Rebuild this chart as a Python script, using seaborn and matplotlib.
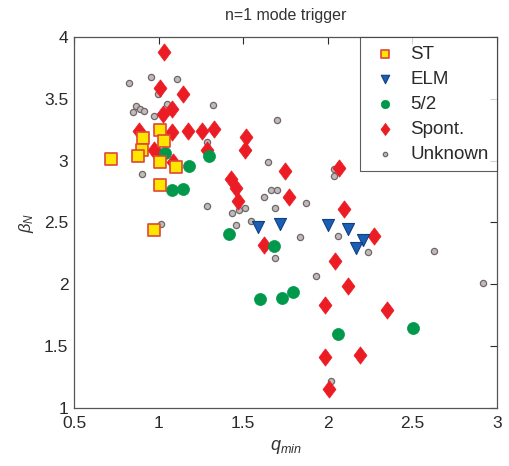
import matplotlib
matplotlib.use("Agg")
import matplotlib.pyplot as plt
import seaborn as sns
import pandas as pd

st_q = [0.72, 1.01, 0.91, 0.90, 0.88, 1.01, 1.03, 1.10, 1.01, 0.97]
st_b = [3.01, 3.25, 3.18, 3.09, 3.04, 2.99, 3.16, 2.95, 2.80, 2.44]

elm_q = [1.585, 1.717, 2.00, 2.12, 2.209, 2.164]
elm_b = [2.46, 2.49, 2.48, 2.45, 2.36, 2.29]

m52_q = [1.037, 1.30, 1.179, 1.077, 1.146, 1.415, 1.681, 1.599, 1.727, 1.795, 2.058, 2.504]
m52_b = [3.06, 3.04, 2.96, 2.76, 2.77, 2.41, 2.31, 1.88, 1.89, 1.94, 1.60, 1.65]

sp_q = [1.033, 1.008, 1.142, 1.077, 1.027, 0.884, 1.077, 1.175, 1.258, 1.327,
        0.974, 0.998, 1.087, 1.284, 1.516, 1.51, 1.427, 1.455, 1.470, 1.746,
        1.772, 2.065, 2.097, 2.274, 1.624, 2.042, 2.12, 1.983, 2.35, 1.983,
        2.19, 2.006]
sp_b = [3.88, 3.59, 3.54, 3.42, 3.38, 3.24, 3.23, 3.24, 3.24, 3.26,
        3.09, 3.05, 2.99, 3.09, 3.19, 3.09, 2.85, 2.78, 2.67, 2.92,
        2.71, 2.94, 2.61, 2.39, 2.32, 2.19, 1.99, 1.83, 1.79, 1.41,
        1.43, 1.15]

un_q = [0.825, 0.955, 1.11, 0.994, 1.048, 0.866, 0.89, 0.913, 0.847, 0.974,
        1.319, 1.284, 0.90, 1.284, 1.431, 1.476, 1.51, 1.455, 1.544, 1.014,
        1.644, 1.697, 2.036, 2.036, 1.664, 1.70, 1.622, 1.874, 1.687, 1.835,
        2.058, 2.235, 1.687, 1.929, 2.626, 2.918, 2.018]
un_b = [3.63, 3.68, 3.66, 3.54, 3.46, 3.44, 3.42, 3.40, 3.39, 3.36,
        3.45, 3.15, 2.89, 2.63, 2.58, 2.60, 2.62, 2.48, 2.51, 2.49,
        2.99, 3.33, 2.88, 2.93, 2.76, 2.76, 2.71, 2.66, 2.62, 2.38,
        2.39, 2.26, 2.21, 2.07, 2.27, 2.01, 1.22]

labels = ["ST", "ELM", "5/2", "Spont.", "Unknown"]
xticks = [0.5, 1, 1.5, 2, 2.5, 3]
yticks = [1, 1.5, 2, 2.5, 3, 3.5, 4]

frames = []
for lab, q, b in [("ST", st_q, st_b), ("ELM", elm_q, elm_b), ("5/2", m52_q, m52_b),
                  ("Spont.", sp_q, sp_b), ("Unknown", un_q, un_b)]:
    frames.append(pd.DataFrame({"qmin": q, "betaN": b, "trigger": lab}))
df = pd.concat(frames, ignore_index=True)

sns.set_style("white")
plt.rcParams["font.family"] = ["Liberation Sans", "DejaVu Sans"]
plt.rcParams["mathtext.fontset"] = "custom"
plt.rcParams["mathtext.it"] = "Liberation Sans:italic"
plt.rcParams["mathtext.rm"] = "Liberation Sans"

fig = plt.figure(figsize=(5.09, 4.66), dpi=100)
ax = fig.add_axes([0.1454, 0.1245, 0.8310, 0.7961])

diamond = [(0, 1), (0.75, 0), (0, -1), (-0.75, 0), (0, 1)]
styles = {
    "ST": dict(marker="s", s=80, color="#FFE600", edgecolor="#E0453A", linewidth=1.2),
    "Spont.": dict(marker=diamond, s=155, color="#EC1C24", edgecolor="#EC1C24", linewidth=0.5),
    "ELM": dict(marker="v", s=75, color="#1A5FB4", edgecolor="#123F80", linewidth=0.8),
    "5/2": dict(marker="o", s=75, color="#00984A", edgecolor="#00984A", linewidth=0.5),
    "Unknown": dict(marker="o", s=20, color="#C2BABA", edgecolor="#6E6868", linewidth=0.9),
}
handles = {}
for lab in ["Unknown", "Spont.", "5/2", "ELM", "ST"]:
    sub = df[df["trigger"] == lab]
    sns.scatterplot(data=sub, x="qmin", y="betaN", ax=ax, legend=False, zorder=3, **styles[lab])
    handles[lab] = ax.collections[-1]

ax.set_xlim(0.5, 3)
ax.set_ylim(1, 4)
ax.set_xticks(xticks)
ax.set_xticklabels(["0.5", "1", "1.5", "2", "2.5", "3"])
ax.set_yticks(yticks)
ax.set_yticklabels(["1", "1.5", "2", "2.5", "3", "3.5", "4"])
ax.tick_params(direction="in", length=5, width=0.8, top=True, right=True,
               labelsize=12.5, colors="#2a2a2a", pad=4)
ax.tick_params(axis="x", pad=6)
for sp in ax.spines.values():
    sp.set_color("#555555")
    sp.set_linewidth(0.9)

ax.set_xlabel(r"$q_{min}$", fontsize=13, color="#333333", labelpad=5)
ax.set_ylabel(r"$\beta_N$", fontsize=12, color="#333333", labelpad=6)
ax.set_title("n=1 mode trigger", fontsize=11.5, color="#333333", pad=12)

leg = ax.legend([handles[l] for l in labels], labels, loc="upper right",
                bbox_to_anchor=(1.0, 1.0), borderaxespad=0, frameon=True,
                fancybox=False, edgecolor="#333333", fontsize=13.5,
                markerscale=0.7, handletextpad=0.5, labelspacing=0.42,
                borderpad=0.45, handlelength=1.7)
leg.get_frame().set_linewidth(0.8)
for t in leg.get_texts():
    t.set_color("#2a2a2a")

fig.savefig("out.png", dpi=100)
